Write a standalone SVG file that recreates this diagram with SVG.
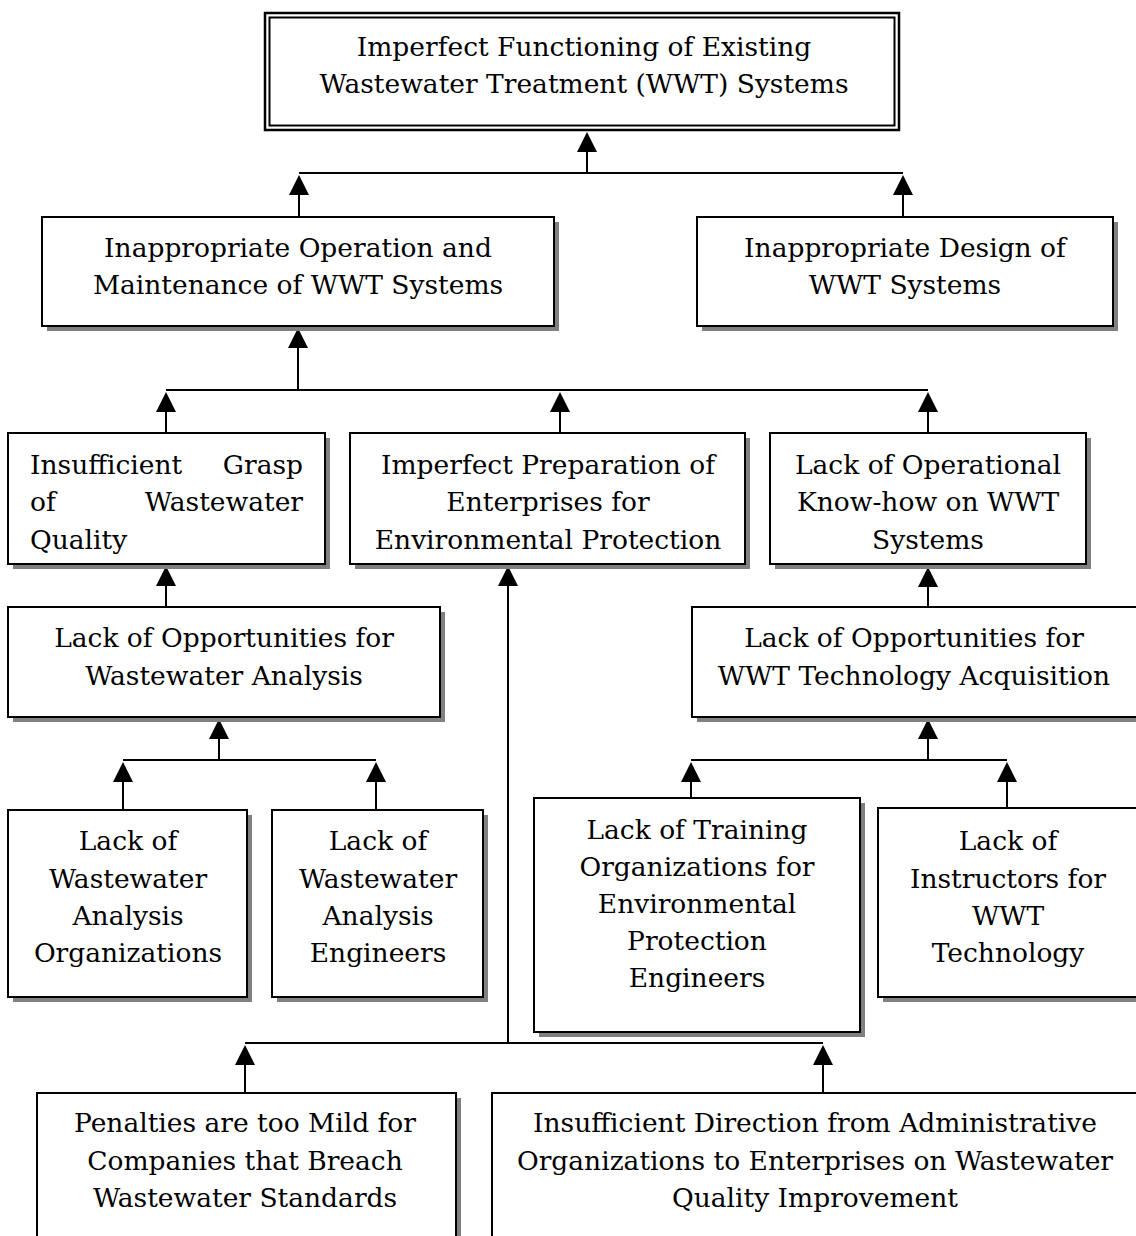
<svg xmlns="http://www.w3.org/2000/svg" width="1136" height="1236" viewBox="0 0 1136 1236">
  <style>
    .bg { fill: #ffffff; }
    .shadow { fill: #808080; }
    .box { fill: #ffffff; stroke: #000000; stroke-width: 2; }
    .frame { fill: none; stroke: #000000; }
    .lbl { font-family: "DejaVu Serif", "Liberation Serif", serif; font-size: 26.5px; fill: #000000; text-anchor: middle; }
    .lbl-l { text-anchor: start; }
    .lbl-r { text-anchor: end; }
    .wire { fill: none; stroke: #000000; stroke-width: 2; }
    .arrow { fill: none; stroke: #000000; stroke-width: 2; marker-end: url(#head); }
  </style>
  <defs>
    <!-- solid triangular head; base sits at the end of the line, tip 20px beyond -->
    <marker id="head" markerUnits="userSpaceOnUse" markerWidth="20" markerHeight="20" refX="0" refY="10" orient="auto" overflow="visible">
      <path d="M0,0 L20,10 L0,20 Z" fill="#000000"/>
    </marker>
  </defs>

  <rect class="bg" x="0" y="0" width="1136" height="1236"/>

  <!-- connectors -->
  <g id="connectors">
    <!-- level 1 -->
    <path class="arrow" d="M587,173 V152"/>
    <path class="wire" d="M299,173 H903"/>
    <path class="arrow" d="M299,217 V195"/>
    <path class="arrow" d="M903,217 V195"/>
    <!-- level 2 -->
    <path class="arrow" d="M298,390 V348"/>
    <path class="wire" d="M166,390 H928"/>
    <path class="arrow" d="M166,433 V412"/>
    <path class="arrow" d="M560,433 V412"/>
    <path class="arrow" d="M928,433 V412"/>
    <!-- level 3 to 4 -->
    <path class="arrow" d="M166,607 V586"/>
    <path class="arrow" d="M928,607 V587"/>
    <!-- left branch -->
    <path class="arrow" d="M219,760 V739"/>
    <path class="wire" d="M123,760 H376"/>
    <path class="arrow" d="M123,810 V782"/>
    <path class="arrow" d="M376,810 V782"/>
    <!-- right branch -->
    <path class="arrow" d="M928,760 V739"/>
    <path class="wire" d="M691,760 H1007"/>
    <path class="arrow" d="M691,798 V782"/>
    <path class="arrow" d="M1007,808 V782"/>
    <!-- middle branch -->
    <path class="arrow" d="M508,1043 V586"/>
    <path class="wire" d="M245,1043 H823"/>
    <path class="arrow" d="M245,1093 V1065"/>
    <path class="arrow" d="M823,1093 V1065"/>
  </g>

  <!-- top problem -->
  <g id="n-core">
    <rect class="frame" x="265" y="13" width="634" height="117" stroke-width="2.5"/>
    <rect class="frame" x="269.5" y="17.5" width="625" height="108" stroke-width="2"/>
    <text class="lbl" x="584" y="56">Imperfect Functioning of Existing</text>
    <text class="lbl" x="584" y="93">Wastewater Treatment (WWT) Systems</text>
  </g>

  <g id="n-operation">
    <rect class="shadow" x="47" y="222" width="512" height="109"/>
    <rect class="box" x="42" y="217" width="512" height="109"/>
    <text class="lbl" x="298" y="257">Inappropriate Operation and</text>
    <text class="lbl" x="298" y="294">Maintenance of WWT Systems</text>
  </g>

  <g id="n-design">
    <rect class="shadow" x="702" y="222" width="416" height="109"/>
    <rect class="box" x="697" y="217" width="416" height="109"/>
    <text class="lbl" x="905" y="257">Inappropriate Design of</text>
    <text class="lbl" x="905" y="294">WWT Systems</text>
  </g>

  <g id="n-grasp">
    <rect class="shadow" x="13" y="438" width="317" height="131"/>
    <rect class="box" x="8" y="433" width="317" height="131"/>
    <text class="lbl lbl-l" x="30" y="474">Insufficient</text>
    <text class="lbl lbl-r" x="303" y="474">Grasp</text>
    <text class="lbl lbl-l" x="30" y="511">of</text>
    <text class="lbl lbl-r" x="303" y="511">Wastewater</text>
    <text class="lbl lbl-l" x="30" y="549">Quality</text>
  </g>

  <g id="n-preparation">
    <rect class="shadow" x="355" y="438" width="395" height="131"/>
    <rect class="box" x="350" y="433" width="395" height="131"/>
    <text class="lbl" x="548" y="474">Imperfect Preparation of</text>
    <text class="lbl" x="548" y="511">Enterprises for</text>
    <text class="lbl" x="548" y="549">Environmental Protection</text>
  </g>

  <g id="n-knowhow">
    <rect class="shadow" x="775" y="438" width="316" height="131"/>
    <rect class="box" x="770" y="433" width="316" height="131"/>
    <text class="lbl" x="928" y="474">Lack of Operational</text>
    <text class="lbl" x="928" y="511">Know-how on WWT</text>
    <text class="lbl" x="928" y="549">Systems</text>
  </g>

  <g id="n-analysis">
    <rect class="shadow" x="13" y="612" width="432" height="110"/>
    <rect class="box" x="8" y="607" width="432" height="110"/>
    <text class="lbl" x="224" y="647">Lack of Opportunities for</text>
    <text class="lbl" x="224" y="685">Wastewater Analysis</text>
  </g>

  <g id="n-acquisition">
    <rect class="shadow" x="697" y="612" width="446" height="110"/>
    <rect class="box" x="692" y="607" width="446" height="110"/>
    <text class="lbl" x="914" y="647">Lack of Opportunities for</text>
    <text class="lbl" x="914" y="685">WWT Technology Acquisition</text>
  </g>

  <g id="n-organizations">
    <rect class="shadow" x="13" y="815" width="239" height="187"/>
    <rect class="box" x="8" y="810" width="239" height="187"/>
    <text class="lbl" x="128" y="850">Lack of</text>
    <text class="lbl" x="128" y="888">Wastewater</text>
    <text class="lbl" x="128" y="925">Analysis</text>
    <text class="lbl" x="128" y="962">Organizations</text>
  </g>

  <g id="n-engineers">
    <rect class="shadow" x="277" y="815" width="211" height="187"/>
    <rect class="box" x="272" y="810" width="211" height="187"/>
    <text class="lbl" x="378" y="850">Lack of</text>
    <text class="lbl" x="378" y="888">Wastewater</text>
    <text class="lbl" x="378" y="925">Analysis</text>
    <text class="lbl" x="378" y="962">Engineers</text>
  </g>

  <g id="n-training">
    <rect class="shadow" x="539" y="803" width="326" height="234"/>
    <rect class="box" x="534" y="798" width="326" height="234"/>
    <text class="lbl" x="697" y="839">Lack of Training</text>
    <text class="lbl" x="697" y="876">Organizations for</text>
    <text class="lbl" x="697" y="913">Environmental</text>
    <text class="lbl" x="697" y="950">Protection</text>
    <text class="lbl" x="697" y="987">Engineers</text>
  </g>

  <g id="n-instructors">
    <rect class="shadow" x="883" y="813" width="262" height="189"/>
    <rect class="box" x="878" y="808" width="262" height="189"/>
    <text class="lbl" x="1008" y="850">Lack of</text>
    <text class="lbl" x="1008" y="888">Instructors for</text>
    <text class="lbl" x="1008" y="925">WWT</text>
    <text class="lbl" x="1008" y="962">Technology</text>
  </g>

  <g id="n-penalties">
    <rect class="shadow" x="42" y="1098" width="419" height="150"/>
    <rect class="box" x="37" y="1093" width="419" height="150"/>
    <text class="lbl" x="245" y="1132">Penalties are too Mild for</text>
    <text class="lbl" x="245" y="1170">Companies that Breach</text>
    <text class="lbl" x="245" y="1207">Wastewater Standards</text>
  </g>

  <g id="n-direction">
    <rect class="shadow" x="497" y="1098" width="650" height="150"/>
    <rect class="box" x="492" y="1093" width="650" height="150"/>
    <text class="lbl" x="815" y="1132">Insufficient Direction from Administrative</text>
    <text class="lbl" x="815" y="1170">Organizations to Enterprises on Wastewater</text>
    <text class="lbl" x="815" y="1207">Quality Improvement</text>
  </g>
</svg>
